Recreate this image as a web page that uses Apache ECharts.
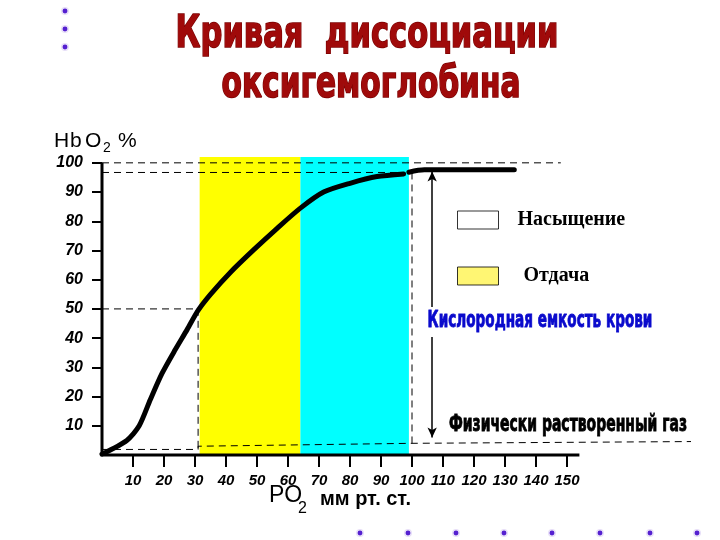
<!DOCTYPE html>
<html><head><meta charset="utf-8">
<script src="https://cdn.jsdelivr.net/npm/echarts@6/dist/echarts.min.js"></script>
<style>html,body{margin:0;padding:0;background:#fff}#c{width:720px;height:540px}</style>
</head><body><div id="c"></div>
<script>
// Oxyhemoglobin dissociation curve: PO2 (mm Hg) vs HbO2 (%)
const curvePO2   = [0, 8, 12, 15.6, 19.4, 23.6, 27.5, 31, 35, 41.4, 48.9, 56.5, 64, 71.5, 80, 88.7, 97.3];
const curveHbO2  = [0.3, 5, 10, 19, 28, 36, 43, 49.5, 55, 62.5, 70.2, 77.6, 84.5, 90, 93, 95.3, 96.2];
const plateauPO2  = [99, 104, 133];
const plateauHbO2 = [96.8, 97.6, 97.6];

const xTicks = [10, 20, 30, 40, 50, 60, 70, 80, 90, 100, 110, 120, 130, 140, 150];
const yTicks = [10, 20, 30, 40, 50, 60, 70, 80, 90, 100];

// shaded bands [from PO2, to PO2, top HbO2]
const releaseBand    = [31.5, 64, 102];   // Отдача (yellow)
const saturationBand = [64, 99, 102];     // Насыщение (cyan)

// dashed reference lines
const line100PO2 = [0, 148],        line100HbO2 = [100, 100];
const lineSatPO2 = [0, 97],         lineSatHbO2 = [96.7, 96.7];
const lineP50PO2 = [0, 31, 31],     lineP50HbO2 = [50, 50, 1.9];
const lineV100PO2 = [100, 100],     lineV100HbO2 = [96.7, 4];
const dissolvedPO2  = [0, 31, 31, 100, 190];
const dissolvedHbO2 = [1.9, 1.9, 3, 4, 4.6];
// oxygen capacity arrow
const capacityPO2 = 106.5, capacityTop = 97, capacityBottom = 6;
// axis lines
const xAxisLinePO2 = [0, 154], xAxisLineHbO2 = [0, 0];
const yAxisLinePO2 = [0, 0],   yAxisLineHbO2 = [0, 100];

const zip = (a, b) => a.map((v, i) => [v, b[i]]);
const dashStyle = {color: '#000', width: 1, type: [7, 5]};
function dashed(xs, ys) {
  return {type: 'line', data: zip(xs, ys), symbol: 'none', clip: false, silent: true, z: 3,
    lineStyle: dashStyle, animation: false};
}
const narrow = '"Liberation Sans Narrow", "Liberation Sans", Arial, sans-serif';
const heavy = '"DejaVu Sans Condensed", "DejaVu Sans", sans-serif';
const sans = '"Liberation Sans", Arial, sans-serif';

function label(text, x, y, font, extra) {
  return Object.assign({type: 'text', x: x, y: y, z: 100,
    style: {text: text, font: font, fill: '#000', textAlign: 'left', textVerticalAlign: 'middle'}}, extra || {});
}

const chart = echarts.init(document.getElementById('c'));
chart.setOption({
  backgroundColor: '#fff',
  animation: false,
  grid: {left: 102, top: 157, width: 589, height: 298, outerBoundsMode: 'none', containLabel: false},
  xAxis: {
    type: 'value', min: 0, max: 190,
    axisLine: {show: false},
    splitLine: {show: false},
    axisTick: {show: true, customValues: xTicks, length: 12, lineStyle: {color: '#000', width: 2}},
    axisLabel: {customValues: xTicks, margin: 18, color: '#000',
      fontFamily: narrow, fontWeight: 'bold', fontStyle: 'italic', fontSize: 15}
  },
  yAxis: {
    type: 'value', min: 0, max: 102,
    axisLine: {show: false},
    splitLine: {show: false},
    axisTick: {show: true, customValues: yTicks, length: 10, lineStyle: {color: '#000', width: 2}},
    axisLabel: {customValues: yTicks, margin: 19, color: '#000',
      fontFamily: narrow, fontWeight: 'bold', fontStyle: 'italic', fontSize: 16}
  },
  legend: {
    orient: 'vertical', left: 457, top: 210, padding: 0, itemWidth: 41, itemHeight: 18, itemGap: 36,
    selectedMode: false,
    textStyle: {fontFamily: '"Liberation Serif", "Times New Roman", serif', fontWeight: 'bold',
      fontSize: 20, color: '#000', lineHeight: 18},
    data: [
      {name: 'Насыщение', icon: 'rect', itemStyle: {color: '#fff', borderColor: '#000', borderWidth: 1},
        textStyle: {padding: [0, 0, 0, 14]}},
      {name: 'Отдача', icon: 'rect', itemStyle: {color: '#FFF450', borderColor: '#000', borderWidth: 1},
        textStyle: {padding: [0, 0, 0, 20]}}
    ]
  },
  series: [
    {name: 'Отдача', type: 'scatter', data: [], itemStyle: {color: '#FFF450'},
      markArea: {silent: true, itemStyle: {color: '#FFFF00', opacity: 1},
        data: [[{xAxis: releaseBand[0], yAxis: 0}, {xAxis: releaseBand[1], yAxis: releaseBand[2]}]]}},
    {name: 'Насыщение', type: 'scatter', data: [], itemStyle: {color: '#fff'},
      markArea: {silent: true, itemStyle: {color: '#00FFFF', opacity: 1},
        data: [[{xAxis: saturationBand[0], yAxis: 0}, {xAxis: saturationBand[1], yAxis: saturationBand[2]}]]}},
    dashed(line100PO2, line100HbO2),
    dashed(lineSatPO2, lineSatHbO2),
    dashed(lineP50PO2, lineP50HbO2),
    dashed(lineV100PO2, lineV100HbO2),
    dashed(dissolvedPO2, dissolvedHbO2),
    {type: 'line', data: [], symbol: 'none', silent: true,
      markLine: {silent: true, symbol: ['arrow', 'arrow'], symbolSize: [7, 10],
        lineStyle: {color: '#000', width: 1.5, type: 'solid'}, label: {show: false},
        data: [[{coord: [capacityPO2, capacityTop]}, {coord: [capacityPO2, capacityBottom]}]]}},
    {type: 'line', data: zip(xAxisLinePO2, xAxisLineHbO2), symbol: 'none', clip: false, z: 4,
      lineStyle: {color: '#000', width: 3}},
    {type: 'line', data: zip(yAxisLinePO2, yAxisLineHbO2), symbol: 'none', clip: false, z: 4,
      lineStyle: {color: '#000', width: 3}},
    {type: 'line', data: zip(curvePO2, curveHbO2), symbol: 'none', smooth: 0.25, clip: false, z: 5,
      lineStyle: {color: '#000', width: 5, cap: 'round', join: 'round'}},
    {type: 'line', data: zip(plateauPO2, plateauHbO2), symbol: 'none', smooth: 0.3, clip: false, z: 5,
      lineStyle: {color: '#000', width: 5, cap: 'round', join: 'round'}}
  ],
  graphic: [
    {type: 'text', x: 367, y: 36, scaleY: 1.3, z: 100,
      style: {text: 'Кривая  диссоциации', font: 'bold 34px ' + heavy, fill: '#A00A0A',
        stroke: '#7A0000', lineWidth: 1.2, textAlign: 'center', textVerticalAlign: 'middle'}},
    {type: 'text', x: 371, y: 86, scaleY: 1.3, scaleX: 0.97, z: 100,
      style: {text: 'оксигемоглобина', font: 'bold 34px ' + heavy, fill: '#A00A0A',
        stroke: '#7A0000', lineWidth: 1.2, textAlign: 'center', textVerticalAlign: 'middle'}},
    label('H', 54, 141, '21px ' + sans),
    label('b', 70, 141, '21px ' + sans),
    label('O', 85, 141, '21px ' + sans),
    label('2', 103, 148, '14px ' + sans),
    label('%', 118, 141, '21px ' + sans),
    label('PO', 269, 496, '23px ' + sans),
    label('2', 298, 509, '16px ' + sans),
    label('мм рт. ст.', 320, 499, 'bold 20px ' + sans),
    {type: 'rect', z: 99, shape: {x: 424, y: 307, width: 232, height: 30}, style: {fill: '#fff'}},
    {type: 'text', x: 540, y: 321, scaleY: 1.4, scaleX: 0.945, z: 100,
      style: {text: 'Кислородная емкость крови', font: 'bold 16px ' + heavy, fill: '#0A0ACC',
        stroke: '#0A0ACC', lineWidth: 0.6, textAlign: 'center', textVerticalAlign: 'middle'}},
    {type: 'text', x: 568, y: 425, scaleY: 1.4, scaleX: 0.97, z: 100,
      style: {text: 'Физически растворенный газ', font: 'bold 16px ' + heavy, fill: '#000',
        stroke: '#000', lineWidth: 0.6, textAlign: 'center', textVerticalAlign: 'middle'}},
    // decorative bullets
    ...[[65, 11], [65, 29], [65, 47], [360, 533], [408, 533], [456, 533], [504, 533],
        [552, 533], [600, 533], [650, 533], [697, 533]].map(p => ({
      type: 'circle', z: 100, shape: {cx: p[0], cy: p[1], r: 3.2},
      style: {fill: '#5520D0', stroke: '#E8E0F8', lineWidth: 1.5}}))
  ]
});
</script>
</body></html>
